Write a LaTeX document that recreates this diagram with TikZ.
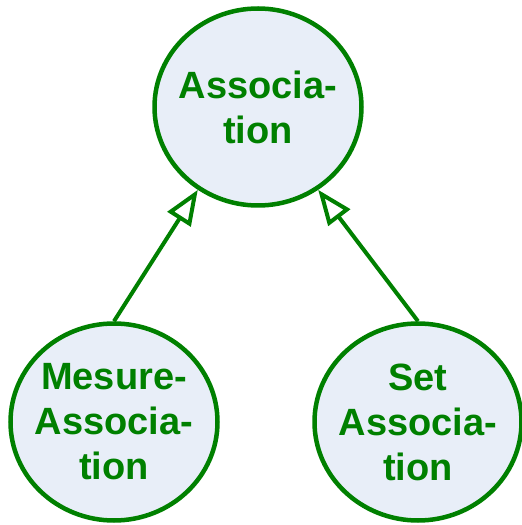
\documentclass[tikz,border=0pt]{standalone}
\usepackage{fontspec}
\setmainfont{Liberation Sans}
\usepackage{xcolor}
\usetikzlibrary{arrows.meta,shapes.geometric}
\definecolor{umlgreen}{HTML}{008000}
\definecolor{umlfill}{HTML}{E8EEF8}

\begin{document}
\begin{tikzpicture}[x=1pt,y=1pt,
  cls/.style={ellipse,draw=umlgreen,line width=4.5pt,fill=umlfill,minimum width=207pt,minimum height=197pt,inner sep=-20pt,
    align=center,text=umlgreen,font=\fontsize{38}{45}\selectfont\bfseries},
  inh/.style={-{Triangle[fill=white,length=35pt,width=27pt]},line width=4pt,draw=umlgreen}]
\useasboundingbox (0,0) rectangle (522,525);
\node[cls] (assoc) at (258,418) {Associa-\\tion};
\node[cls] (mesure) at (114,103) {Mesure-\\Associa-\\tion};
\node[cls] (set) at (418,103) {Set\\Associa-\\tion};
\draw[inh] (mesure.north) -- (assoc.234);
\draw[inh] (set.north) -- (assoc.306);
\end{tikzpicture}
\end{document}
